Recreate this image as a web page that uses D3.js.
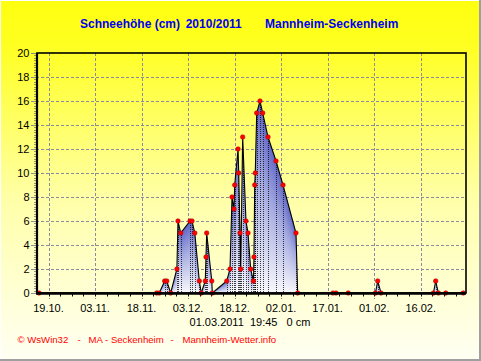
<!DOCTYPE html>
<html><head><meta charset="utf-8">
<script src="https://cdn.jsdelivr.net/npm/d3@7"></script>
<style>body{margin:0;background:#fff}svg{display:block;font-family:"Liberation Sans",Arial,sans-serif}</style>
</head><body><svg id="c" width="481" height="361"></svg>
<script>
// ---- data ----
const times = ["2010-10-15T22:30","2010-11-22T21:00","2010-11-23T17:00","2010-11-25T11:00","2010-11-26T03:00",
"2010-11-27T09:30","2010-11-29T09:30","2010-11-29T18:00","2010-11-30T15:00","2010-12-03T15:00","2010-12-04T06:30",
"2010-12-05T04:00","2010-12-06T15:00","2010-12-07T06:00","2010-12-08T13:00","2010-12-08T18:45","2010-12-09T00:00",
"2010-12-10T15:30","2010-12-10T19:30","2010-12-15T11:00","2010-12-16T12:30","2010-12-17T04:00","2010-12-17T19:30",
"2010-12-18T00:45","2010-12-19T02:30","2010-12-19T07:45","2010-12-19T17:45","2010-12-19T23:15","2010-12-20T14:30",
"2010-12-21T16:00","2010-12-22T07:45","2010-12-23T04:30","2010-12-24T02:00","2010-12-24T06:00","2010-12-24T11:30",
"2010-12-24T16:00","2010-12-25T03:00","2010-12-26T04:30","2010-12-27T01:30","2010-12-28T18:30","2010-12-31T08:30",
"2011-01-02T14:30","2011-01-06T19:00","2011-01-07T08:00","2011-01-18T17:00","2011-01-19T16:30","2011-01-23T15:00",
"2011-02-01T10:00","2011-02-02T03:00","2011-02-03T05:00","2011-02-20T02:30","2011-02-20T20:00","2011-02-21T17:00",
"2011-02-24T01:30","2011-03-01T17:00"];
const snow = [0,0,0,1,1,
0,2,6,5,6,6,
5,1,0,1,3,5,
1,0,1,2,8,7,
9,12,10,5,2,13,
6,5,2,1,3,9,
10,15,16,15,13,11,
9,5,0,0,0,0,
0,1,0,0,1,0,
0,0];
const xDomain = ["2010-10-15T07:00","2011-03-02T14:30"];
const tickDates = ["2010-10-19","2010-11-03","2010-11-18","2010-12-03","2010-12-18","2011-01-02","2011-01-17","2011-02-01","2011-02-16"];
const tickLabels = ["19.10.","03.11.","18.11.","03.12.","18.12.","02.01.","17.01.","01.02.","16.02."];
const yTicks = [0,2,4,6,8,10,12,14,16,18,20];
const titleParts = ["Schneehöhe (cm)","2010/2011","Mannheim-Seckenheim"];
const statusText = "01.03.2011  19:45   0 cm";
const footerParts = ["© WsWin32","-","MA - Seckenheim","-","Mannheim-Wetter.info"];

// ---- setup ----
const W=481,H=361, L=37,R=466,T=53,B=293;
const pT = d3.timeParse("%Y-%m-%dT%H:%M"), pD = d3.timeParse("%Y-%m-%d");
const data = times.map((t,i)=>({t:pT(t), v:snow[i]}));
const x = d3.scaleTime().domain(xDomain.map(pT)).range([L,R]);
const y = d3.scaleLinear().domain([0,20]).range([B,T]);
const svg = d3.select("#c");
const defs = svg.append("defs");

const bg = defs.append("linearGradient").attr("id","bg").attr("x1",0).attr("y1",0).attr("x2",0).attr("y2",1);
bg.append("stop").attr("offset",0).attr("stop-color","#ffff10");
bg.append("stop").attr("offset",0.12).attr("stop-color","#ffff20");
bg.append("stop").attr("offset",0.55).attr("stop-color","#ffffa8");
bg.append("stop").attr("offset",1).attr("stop-color","#fffff4");
const fg = defs.append("linearGradient").attr("id","fg").attr("x1",0).attr("y1",0).attr("x2",0).attr("y2",1);
fg.append("stop").attr("offset",0).attr("stop-color","#5e64c4");
fg.append("stop").attr("offset",0.4).attr("stop-color","#a4aae0");
fg.append("stop").attr("offset",1).attr("stop-color","#f8f8fc");

svg.append("rect").attr("width",W).attr("height",H).attr("fill","url(#bg)");
svg.append("line").attr("x1",0).attr("x2",W).attr("y1",0.5).attr("y2",0.5).attr("stroke","#fff");
svg.append("line").attr("x1",0.5).attr("x2",0.5).attr("y1",0).attr("y2",H).attr("stroke","#fff");
svg.append("line").attr("x1",W-1).attr("x2",W-1).attr("y1",0).attr("y2",H).attr("stroke","#a0a0a0").attr("stroke-width",2);
svg.append("line").attr("x1",0).attr("x2",W).attr("y1",H-1).attr("y2",H-1).attr("stroke","#a0a0a0").attr("stroke-width",2);

// grid
const gridC="#8a8aa0", dash="3,2";
svg.append("g").selectAll("line").data(yTicks).join("line")
  .attr("x1",31).attr("x2",d=> (d===0||d===20)?L:R)
  .attr("y1",d=>y(d)+0.5).attr("y2",d=>y(d)+0.5)
  .attr("stroke",gridC).attr("stroke-dasharray",dash);
svg.append("g").selectAll("line").data(tickDates).join("line")
  .attr("x1",d=>Math.round(x(pD(d)))+0.5).attr("x2",d=>Math.round(x(pD(d)))+0.5)
  .attr("y1",T).attr("y2",B+6)
  .attr("stroke",gridC).attr("stroke-dasharray",dash);

// minor ticks
const yMinor = d3.range(0,101).map(i=>i*0.2);
svg.append("g").selectAll("line").data(yMinor).join("line")
  .attr("x1",34).attr("x2",L).attr("y1",d=>Math.round(y(d))+0.5).attr("y2",d=>Math.round(y(d))+0.5)
  .attr("stroke","#555").attr("stroke-width",0.6);
const t0 = pD(tickDates[0]).getTime(), step=(pD(tickDates[1])-pD(tickDates[0]))/4;
const xMinor = d3.range(-1,40).map(k=>new Date(t0+k*step)).filter(d=>x(d)>=L && x(d)<=R);
svg.append("g").selectAll("line").data(xMinor).join("line")
  .attr("x1",d=>Math.round(x(d))+0.5).attr("x2",d=>Math.round(x(d))+0.5).attr("y1",B).attr("y2",B+3.5)
  .attr("stroke","#000");

// area with per-column gradient
const area = d3.area().x(d=>x(d.t)).y0(B).y1(d=>y(d.v));
defs.append("clipPath").attr("id","ac").append("path").attr("d",area(data));
const pts = data.map(d=>[x(d.t),y(d.v)]);
const cols=[];
function yAt(px){
  for(let i=0;i<pts.length-1;i++){
    const [x0,y0]=pts[i],[x1,y1]=pts[i+1];
    if(px>=x0&&px<=x1){ return x1===x0?Math.min(y0,y1):y0+(y1-y0)*(px-x0)/(x1-x0);}
  }
  return B;
}
for(let px=Math.floor(pts[0][0]); px<=Math.ceil(pts[pts.length-1][0]); px++){
  let top=Math.min(yAt(px),yAt(px+1));
  pts.forEach(p=>{ if(p[0]>=px&&p[0]<=px+1) top=Math.min(top,p[1]); });
  if(B-top>0.3) cols.push({px,top});
}
const ag = svg.append("g").attr("clip-path","url(#ac)");
ag.selectAll("rect").data(cols).join("rect")
  .attr("x",d=>d.px).attr("width",1).attr("y",d=>d.top).attr("height",d=>B-d.top).attr("fill","url(#fg)");
ag.selectAll("line").data(data.filter(d=>d.v>0)).join("line")
  .attr("x1",d=>Math.round(x(d.t))+0.5).attr("x2",d=>Math.round(x(d.t))+0.5)
  .attr("y1",d=>y(d.v)).attr("y2",B)
  .attr("stroke","#000").attr("stroke-dasharray","1,1").attr("stroke-opacity",0.75);

// line
const line = d3.line().x(d=>x(d.t)).y(d=>y(d.v));
svg.append("path").attr("d",line(data)).attr("fill","none").attr("stroke","#000").attr("stroke-width",1.1);

// dots (drawn before axes so baseline dots are partly covered)
svg.append("g").selectAll("circle").data(data).join("circle")
  .attr("cx",d=>x(d.t)).attr("cy",d=>y(d.v)).attr("r",2.3)
  .attr("fill","#f00").attr("stroke","#a00").attr("stroke-width",0.5);

// axes frame
svg.append("rect").attr("x",L).attr("y",T).attr("width",R-L).attr("height",B-T)
  .attr("fill","none").attr("stroke","#000").attr("stroke-width",1.6);
svg.append("line").attr("x1",L).attr("x2",L).attr("y1",T).attr("y2",B+1).attr("stroke","#000").attr("stroke-width",2.2);
svg.append("line").attr("x1",L-1).attr("x2",R).attr("y1",B+0.5).attr("y2",B+0.5).attr("stroke","#000").attr("stroke-width",2.6);

// labels
svg.append("g").selectAll("text").data(yTicks).join("text")
  .attr("x",29.5).attr("y",d=>y(d)+4).attr("text-anchor","end")
  .attr("font-size",11).attr("fill","#000").text(d=>d);
svg.append("g").selectAll("text").data(tickDates).join("text")
  .attr("x",d=>x(pD(d))).attr("y",312).attr("text-anchor","middle")
  .attr("font-size",11).attr("fill","#000").text((d,i)=>tickLabels[i]);

const titleX=[80,185.7,265];
svg.append("g").selectAll("text").data(titleParts).join("text")
  .attr("x",(d,i)=>titleX[i]).attr("y",27.5).attr("font-size",12).attr("font-weight","bold")
  .attr("fill","#0000f0").text(d=>d);
svg.append("text").attr("x",250).attr("y",325.5).attr("text-anchor","middle")
  .attr("font-size",11).attr("fill","#000").style("white-space","pre").attr("xml:space","preserve").text(statusText);
const footX=[17.5,77.5,88.5,170.5,182.5];
svg.append("g").selectAll("text").data(footerParts).join("text")
  .attr("x",(d,i)=>footX[i]).attr("y",343).attr("font-size",9.6).attr("fill","#f00").text(d=>d);
</script></body></html>
